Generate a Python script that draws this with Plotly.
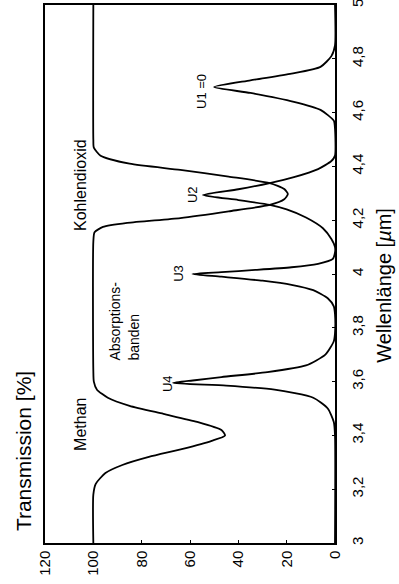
import plotly.graph_objects as go

# Gas transmission curve (Methan band ~3.4 µm, Kohlendioxid band ~4.3 µm)
lam_gas = [3.00, 3.18, 3.22, 3.26, 3.29, 3.32, 3.35, 3.38, 3.40, 3.42, 3.45, 3.48, 3.51, 3.54, 3.57, 3.60, 3.64,
           4.12, 4.155, 4.175, 4.19, 4.208, 4.233, 4.257, 4.278, 4.297, 4.316, 4.338, 4.362, 4.387, 4.41, 4.44,
           4.47, 4.50, 5.00]
trans_gas = [100, 100, 99, 95, 88, 77, 63, 51, 45.5, 47, 57, 71, 85, 94, 98.5, 99.8, 100,
             100, 99.5, 96, 86, 64, 44, 27, 21, 19.5, 21, 27, 44, 64, 85, 97,
             99.8, 100, 100]

# Filter / detector bands U4, U3, U2, U1
lam_filter = [3.00, 3.40, 3.45, 3.50, 3.54, 3.57, 3.585, 3.595, 3.605, 3.617, 3.635, 3.66, 3.70, 3.75, 3.78,
              3.85, 3.88, 3.91, 3.94, 3.96, 3.975, 3.99, 4.00, 4.007, 4.015, 4.025, 4.038, 4.055, 4.08,
              4.10, 4.13, 4.17, 4.21, 4.24, 4.257, 4.275, 4.294, 4.315, 4.338, 4.36, 4.39, 4.42, 4.44,
              4.54, 4.57, 4.61, 4.64, 4.673, 4.695, 4.72, 4.745, 4.77, 4.81, 4.85, 5.00]
trans_filter = [0, 0, 0.5, 3, 9, 25, 45, 67, 58, 47, 28, 12, 4, 0.5, 0,
                0, 0.5, 3, 9, 18, 30, 47, 59, 47, 33, 18, 7, 1, 0,
                0, 1.5, 5, 12, 20, 27, 40, 54.6, 40, 27, 17, 7, 1.5, 0,
                0, 0.5, 6, 17, 35, 50, 35, 18, 6, 1.5, 0, 0]

x_tickvals = [0, 20, 40, 60, 80, 100, 120]
x_ticktext = ["0", "20", "40", "60", "80", "100", "120"]
y_tickvals = [3.0, 3.2, 3.4, 3.6, 3.8, 4.0, 4.2, 4.4, 4.6, 4.8, 5.0]
y_ticktext = ["3", "3,2", "3,4", "3,6", "3,8", "4", "4,2", "4,4", "4,6", "4,8", "5"]

label_text = ["Methan", "Kohlendioxid", "U4", "U3", "U2", "U1 =0"]
label_x = [105.1, 105.1, 69.5, 64.6, 59.2, 55.0]
label_y = [3.439, 4.331, 3.591, 4.004, 4.297, 4.677]
label_size = [16, 16, 13, 13, 13, 13]

fig = go.Figure()
fig.add_trace(go.Scatter(x=trans_gas, y=lam_gas, mode="lines",
                         line=dict(color="black", width=1.8, shape="spline", smoothing=0.6)))
fig.add_trace(go.Scatter(x=trans_filter, y=lam_filter, mode="lines",
                         line=dict(color="black", width=1.8, shape="spline", smoothing=0.6)))

for t, x, y, s in zip(label_text, label_x, label_y, label_size):
    fig.add_annotation(x=x, y=y, xref="x", yref="y", text=t, showarrow=False, textangle=-90,
                       xanchor="center", yanchor="middle", font=dict(size=s, color="black"))

fig.add_annotation(x=87.3, y=3.669, xref="x", yref="y", text="Absorptions-<br>banden", showarrow=False,
                   textangle=-90, align="left", xanchor="center", yanchor="bottom",
                   font=dict(size=14, color="black"))

fig.add_annotation(x=-0.072, y=0.0186, xref="paper", yref="paper", text="Transmission [%]", showarrow=False,
                   textangle=-90, xanchor="center", yanchor="bottom", font=dict(size=21, color="black"))
fig.add_annotation(x=1.168, y=0.4796, xref="paper", yref="paper", text="Wellenlänge [<i>µ</i>m]",
                   showarrow=False, textangle=-90, xanchor="center", yanchor="middle",
                   font=dict(size=20, color="black"))

fig.update_layout(width=399, height=584, margin=dict(l=45, r=64, t=5, b=41, autoexpand=False),
                  plot_bgcolor="white", paper_bgcolor="white", showlegend=False,
                  font=dict(family="Liberation Sans, Arial, sans-serif", color="black"))
fig.update_xaxes(range=[120, 0], tickmode="array", tickvals=x_tickvals, ticktext=x_ticktext,
                 tickangle=-90, ticks="inside", ticklen=3, tickcolor="black",
                 showline=True, linecolor="black", linewidth=1.5, mirror=True, automargin=False,
                 showgrid=False, zeroline=False, tickfont=dict(size=15), ticklabeloverflow="allow")
fig.update_yaxes(range=[3, 5], side="right", tickmode="array", tickvals=y_tickvals, ticktext=y_ticktext,
                 tickangle=-90, ticks="inside", ticklen=3, tickcolor="black", automargin=False,
                 showline=True, linecolor="black", linewidth=1.5, mirror=True,
                 showgrid=False, zeroline=False, tickfont=dict(size=15), ticklabelstandoff=8,
                 ticklabeloverflow="allow")

fig.write_html("out.html", config={"displayModeBar": False},
               post_script="document.body.style.margin='0px';")
